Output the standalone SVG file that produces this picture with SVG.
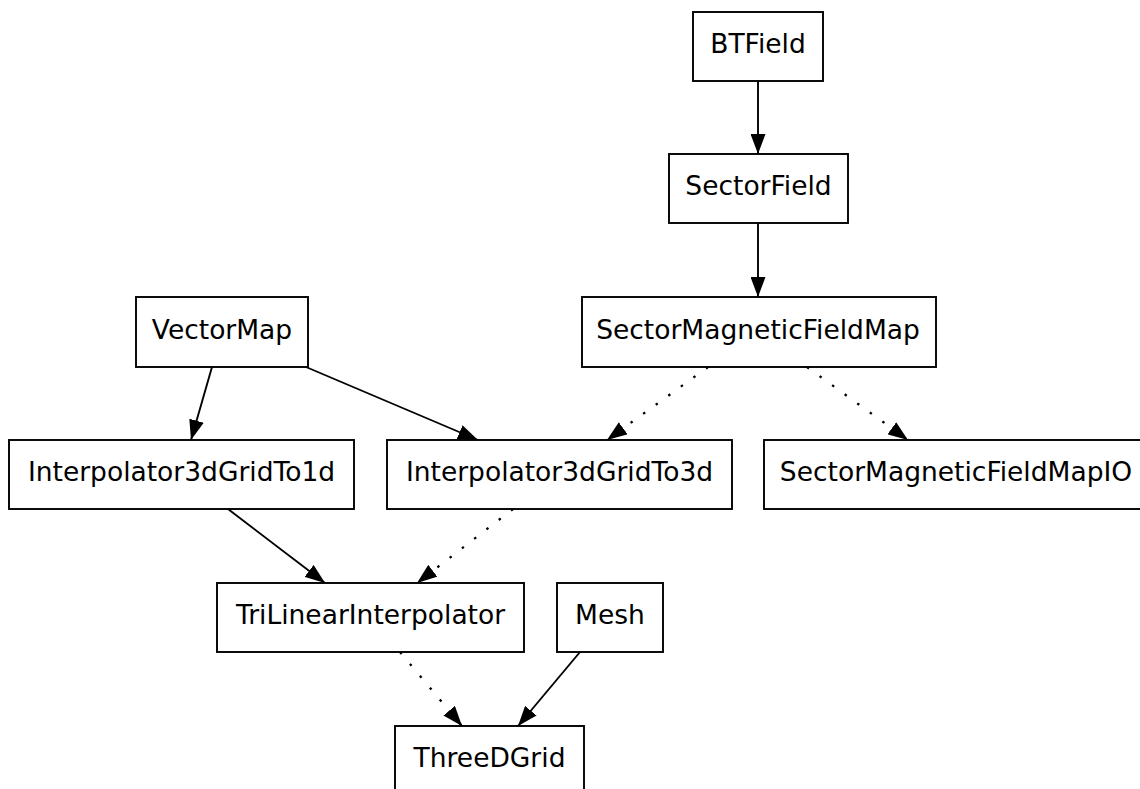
<svg xmlns="http://www.w3.org/2000/svg" width="1140" height="789" viewBox="0 0 1140 789">
<style>
.node rect{fill:#fff;stroke:#000;stroke-width:1.9}
.node text{font-family:"DejaVu Sans",sans-serif;font-size:26.5px;text-anchor:middle;fill:#000}
.edge{stroke:#000;stroke-width:1.9;fill:none}
.dot{stroke-dasharray:2.5,13;stroke-width:2.3}
</style>
<defs>
<marker id="ah" viewBox="0 0 20 15" refX="20" refY="7.5" markerWidth="20" markerHeight="15" markerUnits="userSpaceOnUse" orient="auto">
<path d="M0,0 L20,7.5 L0,15 Z" fill="#000"/>
</marker>
</defs>
<rect width="1140" height="789" fill="#fff"/>
<g id="edges">
<line class="edge" x1="758" y1="81" x2="758" y2="154" marker-end="url(#ah)"/>
<line class="edge" x1="758" y1="223" x2="758" y2="297" marker-end="url(#ah)"/>
<line class="edge" x1="212" y1="367" x2="191" y2="440" marker-end="url(#ah)"/>
<line class="edge" x1="306" y1="367" x2="478" y2="440" marker-end="url(#ah)"/>
<line class="edge dot" x1="708" y1="367" x2="607" y2="440" marker-end="url(#ah)"/>
<line class="edge dot" x1="807" y1="367" x2="908" y2="440" marker-end="url(#ah)"/>
<line class="edge" x1="228" y1="509" x2="325" y2="583" marker-end="url(#ah)"/>
<line class="edge dot" x1="513" y1="509" x2="417" y2="583" marker-end="url(#ah)"/>
<line class="edge dot" x1="400" y1="652" x2="462" y2="726" marker-end="url(#ah)"/>
<line class="edge" x1="580" y1="652" x2="518" y2="726" marker-end="url(#ah)"/>
</g>
<g id="BTField" class="node"><rect x="693" y="12" width="130" height="69"/><text x="758" y="52.5">BTField</text></g>
<g id="SectorField" class="node"><rect x="669" y="154" width="179" height="69"/><text x="758.5" y="195">SectorField</text></g>
<g id="SectorMagneticFieldMap" class="node"><rect x="582" y="297" width="354" height="70"/><text x="758" y="339">SectorMagneticFieldMap</text></g>
<g id="VectorMap" class="node"><rect x="136" y="297" width="172" height="70"/><text x="222" y="339">VectorMap</text></g>
<g id="Interpolator3dGridTo1d" class="node"><rect x="9" y="440" width="345" height="69"/><text x="181.5" y="481">Interpolator3dGridTo1d</text></g>
<g id="Interpolator3dGridTo3d" class="node"><rect x="387" y="440" width="345" height="69"/><text x="559.5" y="481">Interpolator3dGridTo3d</text></g>
<g id="SectorMagneticFieldMapIO" class="node"><rect x="764" y="440" width="384" height="69"/><text x="956" y="481">SectorMagneticFieldMapIO</text></g>
<g id="TriLinearInterpolator" class="node"><rect x="217" y="583" width="307" height="69"/><text x="370.5" y="624">TriLinearInterpolator</text></g>
<g id="Mesh" class="node"><rect x="557" y="583" width="106" height="69"/><text x="610" y="624">Mesh</text></g>
<g id="ThreeDGrid" class="node"><rect x="395" y="726" width="189" height="70"/><text x="489.5" y="767">ThreeDGrid</text></g>
</svg>
